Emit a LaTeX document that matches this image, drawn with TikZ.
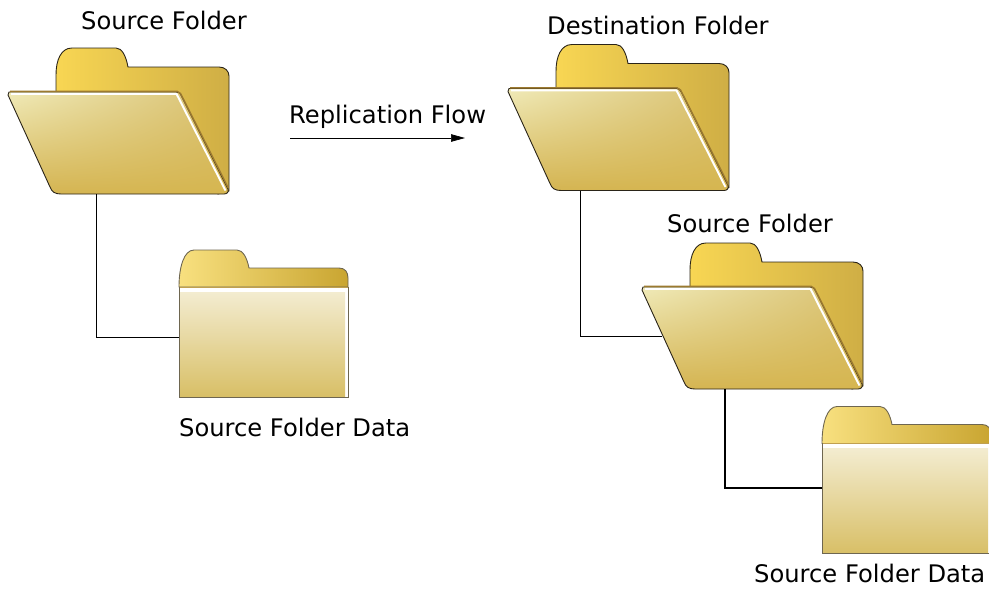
\documentclass[tikz,border=0pt]{standalone}
\usepackage{fontspec}
\setmainfont{DejaVu Sans}
\usetikzlibrary{arrows.meta}
\usetikzlibrary{positioning}
\usetikzlibrary{shadings}

\definecolor{folderedge}{HTML}{2A2418}
\definecolor{foldershadow}{HTML}{9C7A30}
\definecolor{closededge}{HTML}{6E6650}
\definecolor{backleft}{HTML}{F8D653}
\definecolor{backright}{HTML}{CFAE45}
\definecolor{frontul}{HTML}{F0EAB8}
\definecolor{frontur}{HTML}{D8C070}
\definecolor{frontll}{HTML}{D4B452}
\definecolor{frontlr}{HTML}{D6B650}
\definecolor{tableft}{HTML}{F8E07F}
\definecolor{tabright}{HTML}{C9A531}
\definecolor{pagetop}{HTML}{F3ECD0}
\definecolor{pagebottom}{HTML}{D8BF66}
\definecolor{bandline}{HTML}{C0A050}

\tikzset{
  foldertext/.style={inner sep=0pt, font=\fontsize{24.2pt}{29pt}\selectfont},
  link/.style={draw, line width=0.8pt},
  openfolder/.pic={
    \path[draw=folderedge, line width=0.9pt, left color=backleft, right color=backright]
      (48,46) -- (48,27) .. controls (48,12) and (53,0) .. (64,0) -- (108,0)
      .. controls (114,0) and (118,8) .. (120,19) -- (211,19)
      .. controls (217,19) and (221,23) .. (221,28) -- (221,143) -- (210,146) -- cycle;
    \path[draw=folderedge, line width=0.9pt, shading=bilinear interpolation,
      upper left=frontul, upper right=frontur, lower left=frontll, lower right=frontlr]
      (0,47) -- (1,44) -- (168,44) .. controls (171,44) and (172,45) .. (173,47) -- (220,141)
      .. controls (221,144) and (219,146) .. (216,146) -- (53,146)
      .. controls (47,146) and (44,144) .. (42,139) -- cycle;
    \path[draw=foldershadow, line width=1.5pt] (2,43.3) -- (169,43.3) -- (172.5,45.5) -- (220.3,140);
    \path[draw=white, line width=2pt] (3,45.8) -- (168.5,45.8) -- (217.5,142.5);
    \coordinate (-nw) at (0,0);
    \coordinate (-sw) at (0,146);
    \coordinate (-side) at (20,93);
  },
  closedfolder/.pic={
    \path[draw=closededge, line width=0.9pt, left color=tableft, right color=tabright]
      (0,37) .. controls (0,17) and (5,0) .. (15,0) -- (58,0)
      .. controls (64,0) and (68,8) .. (70,18) -- (160,18)
      .. controls (166,18) and (169,22) .. (169,28) -- (169,37) -- cycle;
    \path[fill=white] (0,37) rectangle (169,147);
    \path[top color=pagetop, bottom color=pagebottom] (0,42) rectangle (166,147);
    \path[draw=closededge, line width=0.9pt] (0,37) rectangle (169,147);
    \path[draw=bandline, line width=1pt] (0.5,37) -- (168.5,37);
    \coordinate (-nw) at (0,0);
    \coordinate (-side) at (0,87);
  }
}

\begin{document}
\begin{tikzpicture}[x=1pt, y=-1pt]
\useasboundingbox (0,0) rectangle (989,589);

\pic (srcfolder) at (8,48) {openfolder};
\pic (srcdata) at (179,250) {closedfolder};
\pic (dstfolder) at (508,44.5) {openfolder};
\pic (subfolder) at (642,243) {openfolder};
\pic (subdata) at (822,406.5) {closedfolder};

\node[foldertext, above right=18pt and 73pt of srcfolder-nw] (t0) {Source Folder};
\node[foldertext, below right=168pt and 0pt of srcdata-nw] (t1) {Source Folder Data};
\node[foldertext, above right=9pt and 39pt of dstfolder-nw] (t2) {Destination Folder};
\node[foldertext, above right=10pt and 25pt of subfolder-nw] (t3) {Source Folder};
\node[foldertext, below right=157.5pt and -68pt of subdata-nw] (t4) {Source Folder Data};
\node[foldertext, anchor=base west] (flow) at (289,123) {Replication Flow};

\coordinate (flowstart) at (290,138);
\coordinate (flowend) at (465,138);

\path[-{Triangle[length=14pt,width=7.5pt]}, draw, line width=0.7pt](flowstart) -- (flowend);
\path[link]([xshift=88.5pt]srcfolder-sw) |- (srcdata-side);
\path[link]([xshift=72pt]dstfolder-sw) |- (subfolder-side);
\path[link, line width=1.6pt]([xshift=83pt]subfolder-sw) |- ([yshift=5.5pt]subdata-side);
\end{tikzpicture}
\end{document}
